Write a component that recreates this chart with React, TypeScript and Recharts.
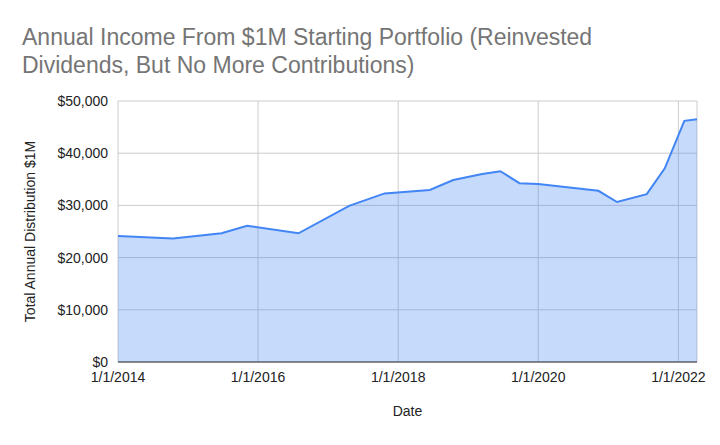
import { AreaChart, Area, XAxis, YAxis, CartesianGrid, Label } from 'recharts';

const dates = [
  '2014-01-01', '2014-10-15', '2015-06-25', '2015-11-05', '2016-07-30',
  '2017-04-20', '2017-10-22', '2018-06-15', '2018-10-15', '2019-03-15',
  '2019-06-18', '2019-09-25', '2020-01-01', '2020-11-10', '2021-02-15',
  '2021-07-20', '2021-10-22', '2022-02-01', '2022-04-08',
];

const income = [
  24150, 23650, 24650, 26100, 24650,
  29900, 32300, 32950, 34850, 36000,
  36550, 34250, 34100, 32800, 30650,
  32150, 37100, 46200, 46500,
];

const xTicks = ['2014-01-01', '2016-01-01', '2018-01-01', '2020-01-01', '2022-01-01'];
const yTicks = [0, 10000, 20000, 30000, 40000, 50000];

const data = dates.map((d, i) => ({ date: Date.parse(d), income: income[i] }));

const font = '"Liberation Sans", Arial, sans-serif';

const fmtDate = (t: number) => {
  const d = new Date(t);
  return `${d.getUTCMonth() + 1}/${d.getUTCDate()}/${d.getUTCFullYear()}`;
};

const fmtMoney = (v: number) => '$' + v.toLocaleString('en-US');

export default function App() {
  return (
    <div style={{ position: 'absolute', left: 0, top: 0, width: 720, height: 445, background: '#fff', fontFamily: font }}>
      <div style={{ position: 'absolute', left: 22, top: 23, fontSize: 23, lineHeight: '28px', color: '#757575' }}>
        Annual Income From $1M Starting Portfolio (Reinvested
        <br />
        Dividends, But No More Contributions)
      </div>
      <AreaChart
        width={720}
        height={445}
        data={data}
        margin={{ top: 101, right: 23, left: 18, bottom: 0 }}
        style={{ fontFamily: font }}
      >
        <CartesianGrid stroke="#cccccc" />
        <XAxis
          dataKey="date"
          type="number"
          domain={[Date.parse(dates[0]), Date.parse(dates[dates.length - 1])]}
          ticks={xTicks.map((t) => Date.parse(t))}
          tickFormatter={fmtDate}
          tickLine={false}
          axisLine={{ stroke: '#333333', strokeWidth: 1.2 }}
          tick={{ fill: '#222222', fontSize: 14 }}
          tickMargin={4}
          height={83}
          allowDataOverflow
        >
          <Label value="Date" position="insideBottom" offset={29} style={{ fill: '#222222', fontSize: 14 }} />
        </XAxis>
        <YAxis
          domain={[0, 50000]}
          ticks={yTicks}
          tickFormatter={fmtMoney}
          tickLine={false}
          axisLine={false}
          tick={{ fill: '#222222', fontSize: 14 }}
          tickMargin={4}
          width={100}
        >
          <Label
            value="Total Annual Distribution $1M"
            angle={-90}
            position="insideLeft"
            offset={12}
            style={{ fill: '#222222', fontSize: 14, textAnchor: 'middle' }}
          />
        </YAxis>
        <Area
          type="linear"
          dataKey="income"
          stroke="#4285f4"
          strokeWidth={2}
          fill="#4285f4"
          fillOpacity={0.3}
          isAnimationActive={false}
          dot={false}
          activeDot={false}
        />
      </AreaChart>
    </div>
  );
}
